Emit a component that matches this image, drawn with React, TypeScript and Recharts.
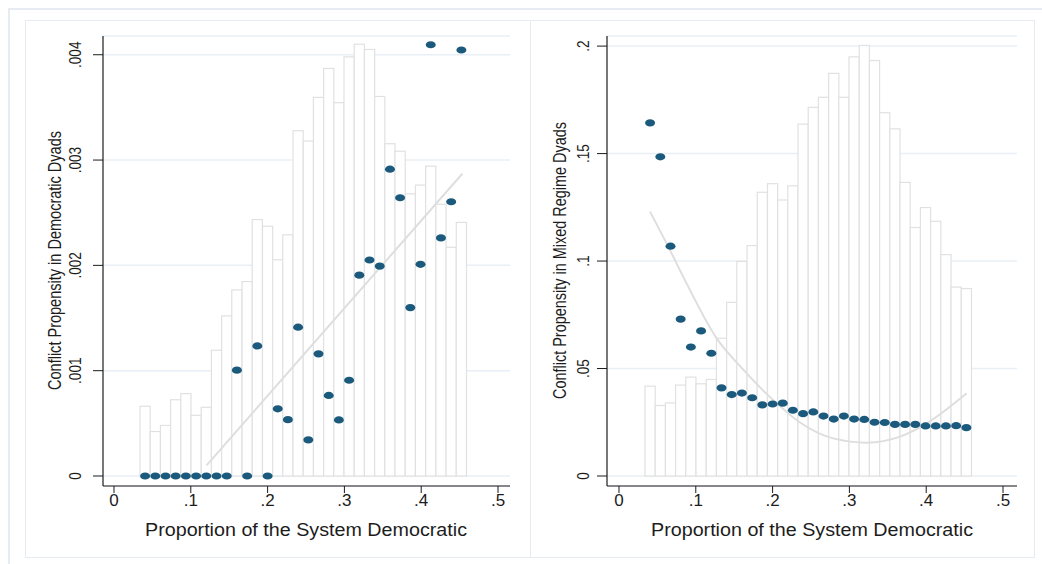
import React from 'react';
import { ComposedChart, Bar, Scatter, Line, XAxis, YAxis, CartesianGrid } from 'recharts';

// bin midpoints of the proportion democratic (x), shared by both panels
const binMid = [
  0.0405, 0.0538, 0.0671, 0.0803, 0.0936, 0.1069, 0.1202, 0.1335, 0.1468, 0.16, 0.1734,
  0.1866, 0.2, 0.2132, 0.2264, 0.2397, 0.253, 0.2663, 0.2796, 0.2928, 0.3061, 0.3194,
  0.3327, 0.346, 0.3593, 0.3725, 0.3858, 0.3991, 0.4124, 0.4257, 0.439, 0.4523,
];

// left panel: democratic dyads
const demHist = [
  0.000662, 0.000422, 0.00048, 0.000724, 0.000782, 0.000576, 0.000652, 0.001194, 0.00152,
  0.001767, 0.001846, 0.002435, 0.002372, 0.002053, 0.00229, 0.003278, 0.003181, 0.003595,
  0.00387, 0.003545, 0.00398, 0.0041, 0.00405, 0.003604, 0.003155, 0.003084, 0.002679,
  0.002762, 0.002942, 0.00258, 0.002172, 0.002408,
];
const demRate = [
  0, 0, 0, 0, 0, 0, 0, 0, 0, 0.001005, 0, 0.001235, 0, 0.000638, 0.000535, 0.001413,
  0.000343, 0.00116, 0.000765, 0.000532, 0.000909, 0.001907, 0.002051, 0.001993, 0.002913,
  0.002642, 0.001599, 0.00201, 0.004095, 0.002261, 0.002604, 0.004045,
];
const demFitX = [0.1205, 0.4535];
const demFit = [0.0001, 0.00287];

// right panel: mixed regime dyads
const mixHist = [
  0.0418, 0.0328, 0.034, 0.0423, 0.046, 0.0429, 0.0449, 0.0641, 0.0808, 0.0998, 0.1072,
  0.132, 0.136, 0.1284, 0.135, 0.1637, 0.1715, 0.1762, 0.1873, 0.1762, 0.195, 0.2003,
  0.1933, 0.169, 0.1615, 0.1366, 0.1156, 0.1249, 0.1185, 0.103, 0.0879, 0.0872,
];
const mixRate = [
  0.1643, 0.1485, 0.1069, 0.073, 0.06, 0.0675, 0.0571, 0.041, 0.0379, 0.0386, 0.0364,
  0.0331, 0.0335, 0.0339, 0.0306, 0.029, 0.0298, 0.0279, 0.0265, 0.0279, 0.0265, 0.0263,
  0.025, 0.0249, 0.024, 0.024, 0.024, 0.0233, 0.0233, 0.0233, 0.0234, 0.0225,
];
const mixFitX = [0.0404, 0.0664, 0.088, 0.1272, 0.16, 0.2009, 0.2357, 0.279, 0.3225, 0.3659, 0.4006, 0.4527];
const mixFit = [0.123, 0.1051, 0.0896, 0.064, 0.0502, 0.0353, 0.0249, 0.0175, 0.0155, 0.0183, 0.0245, 0.0385];

const xTicks = [0, 0.1, 0.2, 0.3, 0.4, 0.5];
const xTickLabels = ['0', '.1', '.2', '.3', '.4', '.5'];
const demTicks = [0, 0.001, 0.002, 0.003, 0.004];
const demTickLabels = ['0', '.001', '.002', '.003', '.004'];
const mixTicks = [0, 0.05, 0.1, 0.15, 0.2];
const mixTickLabels = ['0', '.05', '.1', '.15', '.2'];

const xTitle = 'Proportion of the System Democratic';
const demTitle = 'Conflict Propensity in Democratic Dyads';
const mixTitle = 'Conflict Propensity in Mixed Regime Dyads';

const FONT = "'Liberation Sans', Arial, Helvetica, sans-serif";
const INK = '#1c1c1c';
const DOT = '#1b5a7c';
const BAR_EDGE = '#e1e1e1';
const GRID = '#e9eff6';
const FIT = '#dedede';
const FRAME = '#e7ecf3';
const BAR_W = 10.2; // one bin in pixels

type PanelProps = {
  left: number;
  width: number;
  yAxisWidth: number;
  marginRight: number;
  xDomain: [number, number];
  yDomain: [number, number];
  yTicks: number[];
  yTickLabels: string[];
  yTickX: number;
  hist: number[];
  rate: number[];
  fitX: number[];
  fitY: number[];
  curve: 'linear' | 'monotone';
};

const Dot = (props: any) => {
  const { cx, cy } = props;
  if (cx == null || cy == null) return null;
  return <ellipse cx={cx} cy={cy} rx={5} ry={3.6} fill={DOT} />;
};

// histogram bar centred on its bin midpoint, full bin width
const HistBar = (props: any) => {
  const { x, y, width, height } = props;
  if (x == null || height == null) return null;
  const cx = x + width / 2;
  return (
    <rect
      x={cx - BAR_W / 2}
      y={y}
      width={BAR_W}
      height={height}
      fill="#ffffff"
      stroke={BAR_EDGE}
      strokeWidth={1.2}
    />
  );
};

const Panel = (p: PanelProps) => {
  const rows = binMid.map((x, i) => ({ x, h: p.hist[i], r: p.rate[i] }));
  const fitRows = p.fitX.map((x, i) => ({ x, f: p.fitY[i] }));

  const xTick = (t: any) => {
    const idx = xTicks.indexOf(t.payload.value);
    return (
      <text x={t.x} y={506} textAnchor="middle" fontSize={17} fontFamily={FONT} fill={INK}>
        {xTickLabels[idx]}
      </text>
    );
  };

  const yTick = (t: any) => {
    const idx = p.yTicks.indexOf(t.payload.value);
    return (
      <g transform={`translate(${p.yTickX},${t.y}) rotate(-90) scale(0.8,1)`}>
        <text x={0} y={0} textAnchor="middle" dominantBaseline="central" fontSize={17} fontFamily={FONT} fill={INK}>
          {p.yTickLabels[idx]}
        </text>
      </g>
    );
  };

  return (
    <div style={{ position: 'absolute', left: p.left, top: 0, width: p.width, height: 564 }}>
      <ComposedChart
        width={p.width}
        height={564}
        data={rows}
        margin={{ top: 36, right: p.marginRight, bottom: 18, left: 0 }}
      >
        <CartesianGrid vertical={false} stroke={GRID} strokeWidth={1.5} />
        <XAxis
          type="number"
          dataKey="x"
          domain={p.xDomain}
          allowDataOverflow
          ticks={xTicks}
          interval={0}
          height={60}
          tickSize={7}
          axisLine={{ stroke: INK, strokeWidth: 1.2 }}
          tickLine={{ stroke: INK, strokeWidth: 1 }}
          tick={xTick}
        />
        <YAxis
          type="number"
          domain={p.yDomain}
          allowDataOverflow
          ticks={p.yTicks}
          interval={0}
          width={p.yAxisWidth}
          tickSize={10}
          axisLine={{ stroke: INK, strokeWidth: 1.2 }}
          tickLine={{ stroke: INK, strokeWidth: 1 }}
          tick={yTick}
        />
        <Bar dataKey="h" shape={HistBar} isAnimationActive={false} />
        <Scatter data={rows} dataKey="r" shape={Dot} isAnimationActive={false} />
        <Line
          data={fitRows}
          dataKey="f"
          type={p.curve}
          stroke={FIT}
          strokeWidth={2}
          dot={false}
          activeDot={false}
          isAnimationActive={false}
        />
      </ComposedChart>
    </div>
  );
};

export default function App() {
  return (
    <div
      style={{
        position: 'absolute',
        left: 0,
        top: 0,
        width: 1042,
        height: 564,
        overflow: 'hidden',
        background: '#ffffff',
      }}
    >
      {/* graph region frames */}
      <div style={{ position: 'absolute', left: 8, top: 8, width: 1100, height: 600, border: `2px solid ${FRAME}` }} />
      <div style={{ position: 'absolute', left: 25, top: 20, width: 504, height: 536, border: `1.5px solid ${FRAME}` }} />
      <div style={{ position: 'absolute', left: 530, top: 20, width: 503, height: 536, border: `1.5px solid ${FRAME}` }} />

      <Panel
        left={0}
        width={530}
        yAxisWidth={103}
        marginRight={20}
        xDomain={[-0.01432, 0.5156]}
        yDomain={[-0.000095, 0.004178]}
        yTicks={demTicks}
        yTickLabels={demTickLabels}
        yTickX={75}
        hist={demHist}
        rate={demRate}
        fitX={demFitX}
        fitY={demFit}
        curve="linear"
      />
      <Panel
        left={530}
        width={512}
        yAxisWidth={77}
        marginRight={25}
        xDomain={[-0.0156, 0.5182]}
        yDomain={[-0.00465, 0.2047]}
        yTicks={mixTicks}
        yTickLabels={mixTickLabels}
        yTickX={53}
        hist={mixHist}
        rate={mixRate}
        fitX={mixFitX}
        fitY={mixFit}
        curve="monotone"
      />

      {/* axis titles */}
      <svg width={1042} height={564} style={{ position: 'absolute', left: 0, top: 0, pointerEvents: 'none' }}>
        <text x={306} y={536} textAnchor="middle" fontSize={17.5} fontFamily={FONT} fill={INK} textLength={322} lengthAdjust="spacingAndGlyphs">
          {xTitle}
        </text>
        <text x={812} y={536} textAnchor="middle" fontSize={17.5} fontFamily={FONT} fill={INK} textLength={322} lengthAdjust="spacingAndGlyphs">
          {xTitle}
        </text>
        <g transform="translate(55,260.5) rotate(-90)">
          <text x={0} y={0} textAnchor="middle" dominantBaseline="central" fontSize={18} fontFamily={FONT} fill={INK} textLength={259} lengthAdjust="spacingAndGlyphs">
            {demTitle}
          </text>
        </g>
        <g transform="translate(560,260.5) rotate(-90)">
          <text x={0} y={0} textAnchor="middle" dominantBaseline="central" fontSize={18} fontFamily={FONT} fill={INK} textLength={277} lengthAdjust="spacingAndGlyphs">
            {mixTitle}
          </text>
        </g>
      </svg>
    </div>
  );
}
